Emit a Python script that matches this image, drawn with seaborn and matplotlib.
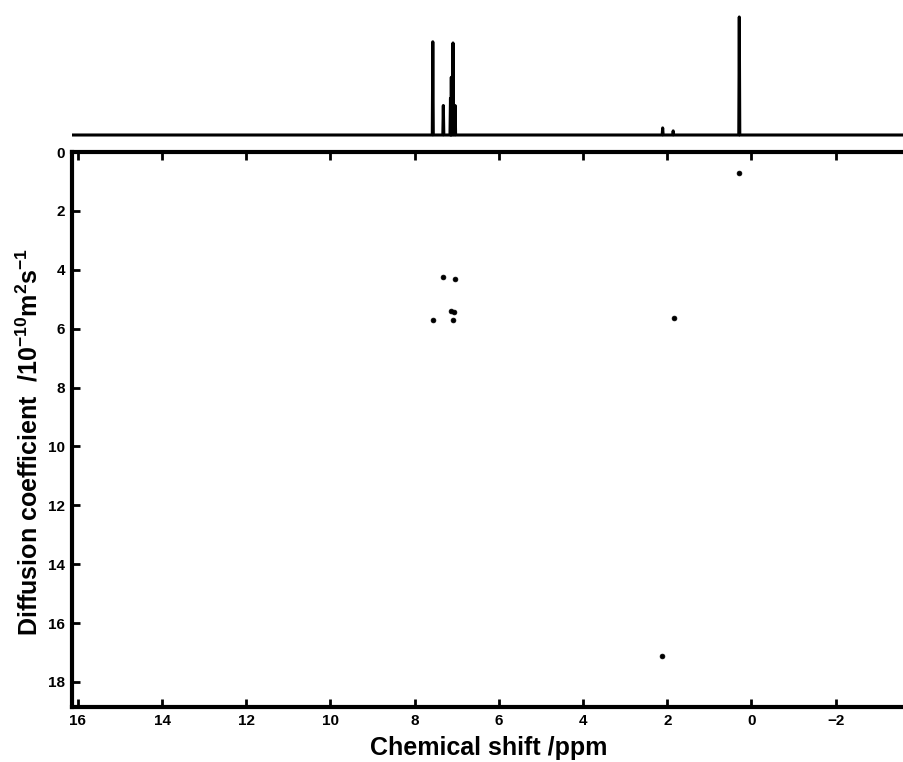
import numpy as np
import pandas as pd
import matplotlib
matplotlib.use("Agg")
import matplotlib.pyplot as plt
import seaborn as sns

# ---- data ----
peak_ppm = [7.57, 7.32, 7.15, 7.13, 7.09, 7.04, 2.11, 1.86, 0.29]
peak_height = [0.79, 0.25, 0.31, 0.49, 0.78, 0.25, 0.06, 0.035, 1.0]

spot_ppm = [0.29, 7.32, 7.04, 7.56, 7.14, 7.06, 7.10, 1.84, 2.12]
spot_D = [0.72, 4.23, 4.32, 5.69, 5.39, 5.42, 5.71, 5.65, 17.12]

x_ticks = [16, 14, 12, 10, 8, 6, 4, 2, 0, -2]
y_ticks = [0, 2, 4, 6, 8, 10, 12, 14, 16, 18]

XLIM = (16.14, -3.67)
YLIM = (18.85, 0)

# ---- build spectrum vertices from the peak list ----
hw = 0.012
xs = [XLIM[0]]
ys = [0.0]
order = np.argsort(peak_ppm)[::-1]
for i in order:
    p, h = peak_ppm[i], peak_height[i]
    xs += [p + hw, p, p - hw]
    ys += [0.0, h, 0.0]
xs.append(XLIM[1])
ys.append(0.0)
spec = pd.DataFrame({"ppm": xs, "I": ys})
spots = pd.DataFrame({"ppm": spot_ppm, "D": spot_D})

sns.set_style("white")
plt.rcParams["font.family"] = ["Liberation Sans", "DejaVu Sans"]
plt.rcParams["font.weight"] = "bold"
for k in ["text.color", "axes.labelcolor", "xtick.color", "ytick.color"]:
    plt.rcParams[k] = "black"
plt.rcParams["mathtext.fontset"] = "custom"
plt.rcParams["mathtext.rm"] = "Liberation Sans:bold"
plt.rcParams["mathtext.bf"] = "Liberation Sans:bold"
plt.rcParams["mathtext.default"] = "bf"

W, H = 904, 762
fig = plt.figure(figsize=(W / 100, H / 100), dpi=100)

# main 2D axes
L, R, T, B = 72, 906, 152, 707
ax = fig.add_axes([L / W, 1 - B / H, (R - L) / W, (B - T) / H])
sns.scatterplot(data=spots, x="ppm", y="D", ax=ax, color="black",
                s=12, marker="o", edgecolor="black", linewidth=0.5)
ax.set_xlim(*XLIM)
ax.set_ylim(*YLIM)
ax.set_xticks(x_ticks)
ax.set_xticklabels([str(t).replace("-", "\u2212") for t in x_ticks])
ax.set_yticks(y_ticks)
ax.tick_params(direction="in", length=6, width=2, labelsize=11,
               top=True, bottom=True, left=True, right=False, pad=5,
               colors="black")
for lab in ax.get_xticklabels() + ax.get_yticklabels():
    lab.set_fontweight("bold")
for s in ["left", "top", "bottom"]:
    ax.spines[s].set_linewidth(3)
    ax.spines[s].set_color("black")
ax.spines["right"].set_visible(False)
ax.set_xlabel("Chemical shift /ppm", fontsize=18, fontweight="bold",
              labelpad=6, color="black")
ax.set_ylabel("Diffusion coefficient  /10$^{-10}$m$^2$s$^{-1}$",
              fontsize=18, fontweight="bold", color="black")
ax.yaxis.set_label_coords(-0.035, 0.478)

# top 1D spectrum
sT, sB = 0, 140
ax2 = fig.add_axes([L / W, 1 - sB / H, (R - L) / W, (sB - sT) / H])
sns.lineplot(data=spec, x="ppm", y="I", ax=ax2, sort=False, estimator=None,
             color="black", linewidth=2.2)
ax2.set_xlim(*XLIM)
ax2.set_ylim(-5 / 118, 1 + 17 / 118)
ax2.axis("off")

fig.savefig("out.png", dpi=100)
